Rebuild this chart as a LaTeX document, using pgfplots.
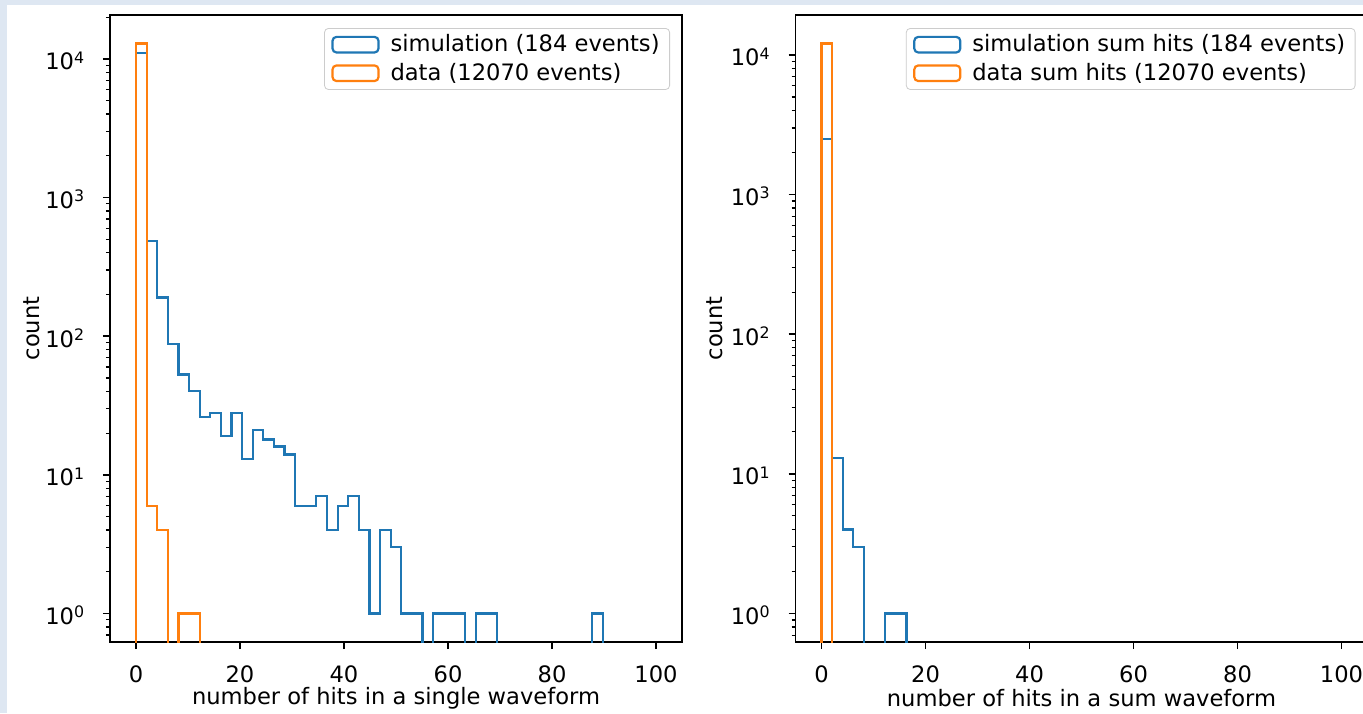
\documentclass[border=0pt]{standalone}
\usepackage{fontspec}
\setmainfont{DejaVu Sans}
\usepackage{pgfplots}
\pgfplotsset{compat=1.18}
\usepackage{pgfplotstable}

\definecolor{mplblue}{HTML}{1F77B4}
\definecolor{mplorange}{HTML}{FF7F0E}
\definecolor{pagebg}{RGB}{222,231,242}

\newcommand{\ee}[1]{10\raisebox{0.3em}{\fontsize{7.9}{8}\selectfont #1}}

% bin edges k*100/49; empty bins set to 0.01 so the step drops below the axis
\pgfplotstableread{
x y
0 0.01
0 10970
2.04 488
4.08 190
6.12 88
8.16 53
10.20 40
12.24 26
14.29 28
16.33 19
18.37 28
20.41 13
22.45 21
24.49 18
26.53 16
28.57 14
30.61 6
32.65 6
34.69 7
36.73 4
38.78 6
40.82 7
42.86 4
44.90 1
46.94 4
48.98 3
51.02 1
53.06 1
55.10 0.01
57.14 1
59.18 1
61.22 1
63.27 0.01
65.31 1
67.35 1
69.39 0.01
87.76 1
89.80 0.01
100 0.01
}\simsingle

\pgfplotstableread{
x y
0 0.01
0 12900
2.04 6
4.08 4
6.12 0.01
8.16 1
10.20 1
12.24 0.01
100 0.01
}\datasingle

\pgfplotstableread{
x y
0 0.01
0 2510
2.04 13
4.08 4
6.12 3
8.16 0.01
12.24 1
14.29 1
16.33 0.01
100 0.01
}\simsum

\pgfplotstableread{
x y
0 0.01
0 12070
2.04 0.01
100 0.01
}\datasum

\pgfplotsset{
  every axis/.append style={
    scale only axis, width=286pt, height=313.5pt,
    xmin=-5, xmax=105,
    xtick={0,20,40,60,80,100},
    xticklabels={0,20,40,60,80,100},
    ytick={1,10,100,1000,10000},
    yticklabels={\ee{0},\ee{1},\ee{2},\ee{3},\ee{4}},
    minor ytick={0.7,0.8,0.9,2,3,4,5,6,7,8,9,20,30,40,50,60,70,80,90,200,300,400,500,600,700,800,900,2000,3000,4000,5000,6000,7000,8000,9000,20000},
    tick pos=left, tick align=outside,
    major tick length=3.5pt, minor tick length=2pt,
    major tick style={black, line width=0.8pt},
    minor tick style={black, line width=0.6pt},
    axis line style={black, line width=0.8pt},
    xticklabel style={yshift=-4.5pt},
    yticklabel style={xshift=-5.5pt, yshift=-1pt},
    legend cell align=left,
    legend style={at={(1,1)}, anchor=north east,
      xshift=-6pt, yshift=-6.5pt, draw=black!20, rounded corners=2pt,
      fill=white, inner xsep=3pt, inner ysep=1pt, row sep=0pt},
  },
  blueimg/.style={legend image code/.code={\path[draw=none, fill=none] (0pt,0pt) -- (28pt,0pt);
    \draw[mplblue, line width=1.1pt] (1pt,-3.9pt) rectangle (24pt,3.9pt);}},
  orangeimg/.style={legend image code/.code={\path[draw=none, fill=none] (0pt,0pt) -- (28pt,0pt);
    \draw[mplorange, line width=1.1pt] (1pt,-3.9pt) rectangle (24pt,3.9pt);}},
}

\begin{document}
\fontsize{11.3}{13.6}\selectfont
\begin{tikzpicture}
\fill[pagebg] (0,0) rectangle (681.5pt,-356.5pt);
\fill[white] (3.5pt,-2.5pt) rectangle (681.5pt,-356.5pt);
\useasboundingbox (0,0) rectangle (681.5pt,-356.5pt);
\clip (0,-2.5pt) rectangle (681.5pt,-356.5pt);

\begin{semilogyaxis}[at={(55pt,-321pt)}, anchor=south west,
    ymin=0.623, ymax=20710,
    xlabel={number of hits in a single waveform},
    ylabel={count},
    xlabel style={at={(0.5,-0.0893)}, anchor=center},
    ylabel style={at={(-0.1364,0.5)}, anchor=center}]
\addlegendimage{blueimg}
\addlegendentry{simulation (184 events)}
\addlegendimage{orangeimg}
\addlegendentry{data (12070 events)}
\addplot[forget plot, const plot, mplblue, line width=1.1pt] table {\simsingle};
\addplot[forget plot, const plot, mplorange, line width=1.1pt] table {\datasingle};
\end{semilogyaxis}

\begin{semilogyaxis}[at={(397.75pt,-321pt)}, anchor=south west,
    ymin=0.625, ymax=19310,
    xlabel={number of hits in a sum waveform},
    ylabel={count},
    xlabel style={at={(0.5,-0.0893)}, anchor=center},
    ylabel style={at={(-0.1407,0.5)}, anchor=center}]
\addlegendimage{blueimg}
\addlegendentry{simulation sum hits (184 events)}
\addlegendimage{orangeimg}
\addlegendentry{data sum hits (12070 events)}
\addplot[forget plot, const plot, mplblue, line width=1.1pt] table {\simsum};
\addplot[forget plot, const plot, mplorange, line width=1.1pt] table {\datasum};
\end{semilogyaxis}
\end{tikzpicture}
\end{document}
